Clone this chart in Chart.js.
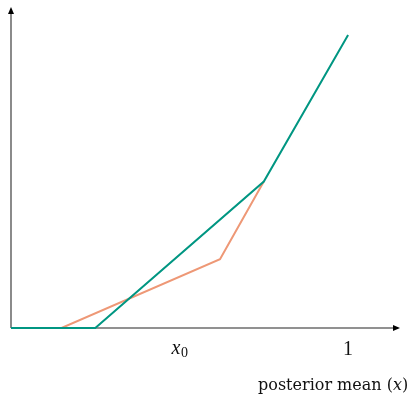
<!DOCTYPE html>
<html>
<head>
<meta charset="utf-8">
<script src="https://cdn.jsdelivr.net/npm/chart.js@4/dist/chart.umd.min.js"></script>
<style>
  html, body { margin: 0; padding: 0; background: #fff; }
  #wrap { width: 408px; height: 396px; }
</style>
</head>
<body>
<div id="wrap"><canvas id="c" width="408" height="396"></canvas></div>
<script>
// data (x: posterior mean, y: value)
const tealX = [0, 0.25, 0.75, 1.0];
const tealY = [0, 0, 0.5, 1.0];
const salmonX = [0, 0.15, 0.62, 0.75];
const salmonY = [0, 0, 0.235, 0.5];
const tickValues = [0.5, 1];
const tickLabels = ['x0', '1'];
const axisTitle = 'posterior mean (x)';

const toPoints = (xs, ys) => xs.map((x, i) => ({ x: x, y: ys[i] }));

// axes with arrow heads, tick labels and axis title
const axesPlugin = {
  id: 'axesPlugin',
  beforeDatasetsDraw(chart) {
    const ctx = chart.ctx;
    const xs = chart.scales.x, ys = chart.scales.y;
    const x0 = xs.getPixelForValue(0), y0 = ys.getPixelForValue(0);
    const xEnd = xs.right, yEnd = ys.top;
    ctx.save();
    ctx.strokeStyle = '#6e6e6e';
    ctx.lineWidth = 1.6;
    ctx.beginPath();
    ctx.moveTo(x0, y0); ctx.lineTo(xEnd - 4, y0);
    ctx.moveTo(x0, y0); ctx.lineTo(x0, yEnd + 4);
    ctx.stroke();
    ctx.fillStyle = '#000';
    ctx.beginPath();
    ctx.moveTo(xEnd, y0); ctx.lineTo(xEnd - 7, y0 - 3); ctx.lineTo(xEnd - 7, y0 + 3);
    ctx.closePath(); ctx.fill();
    ctx.beginPath();
    ctx.moveTo(x0, yEnd); ctx.lineTo(x0 - 3, yEnd + 7); ctx.lineTo(x0 + 3, yEnd + 7);
    ctx.closePath(); ctx.fill();

    // tick labels
    ctx.fillStyle = '#111';
    ctx.textBaseline = 'alphabetic';
    tickValues.forEach((v, i) => {
      const px = xs.getPixelForValue(v);
      const lab = tickLabels[i];
      if (lab === 'x0') {
        ctx.font = 'italic 20px "Liberation Serif"';
        const w1 = ctx.measureText('x').width;
        ctx.font = '14px "Liberation Serif"';
        const w2 = ctx.measureText('0').width;
        const start = px - (w1 + w2) / 2;
        ctx.textAlign = 'left';
        ctx.font = 'italic 20px "Liberation Serif"';
        ctx.fillText('x', start, y0 + 26);
        ctx.font = '14px "Liberation Serif"';
        ctx.fillText('0', start + w1 + 0.5, y0 + 29);
      } else {
        ctx.font = '20px "Liberation Serif"';
        ctx.textAlign = 'center';
        ctx.fillText(lab, px, y0 + 27);
      }
    });

    // axis title
    ctx.font = '16px "DejaVu Serif"';
    ctx.textAlign = 'left';
    const parts = axisTitle.split('x');
    let tx = 258;
    const ty = y0 + 62;
    ctx.fillText(parts[0], tx, ty);
    tx += ctx.measureText(parts[0]).width;
    ctx.font = 'italic 16px "DejaVu Serif"';
    ctx.fillText('x', tx, ty);
    tx += ctx.measureText('x').width;
    ctx.font = '16px "DejaVu Serif"';
    ctx.fillText(parts[1], tx, ty);
    ctx.restore();
  }
};

new Chart(document.getElementById('c'), {
  type: 'line',
  data: {
    datasets: [
      {
        label: 'teal',
        data: toPoints(tealX, tealY),
        borderColor: 'rgb(0, 150, 130)',
        borderWidth: 2,
        pointRadius: 0,
        tension: 0,
        clip: false,
        order: 0
      },
      {
        label: 'salmon',
        data: toPoints(salmonX, salmonY),
        borderColor: 'rgb(238, 152, 118)',
        borderWidth: 2,
        pointRadius: 0,
        tension: 0,
        clip: false,
        order: 1
      }
    ]
  },
  options: {
    responsive: false,
    animation: false,
    layout: { padding: { left: 11, right: 8, top: 7, bottom: 68 } },
    plugins: { legend: { display: false }, tooltip: { enabled: false } },
    scales: {
      x: { type: 'linear', min: 0, max: 1.154, display: false },
      y: { type: 'linear', min: 0, max: 1.096, display: false }
    }
  },
  plugins: [axesPlugin]
});
</script>
</body>
</html>
